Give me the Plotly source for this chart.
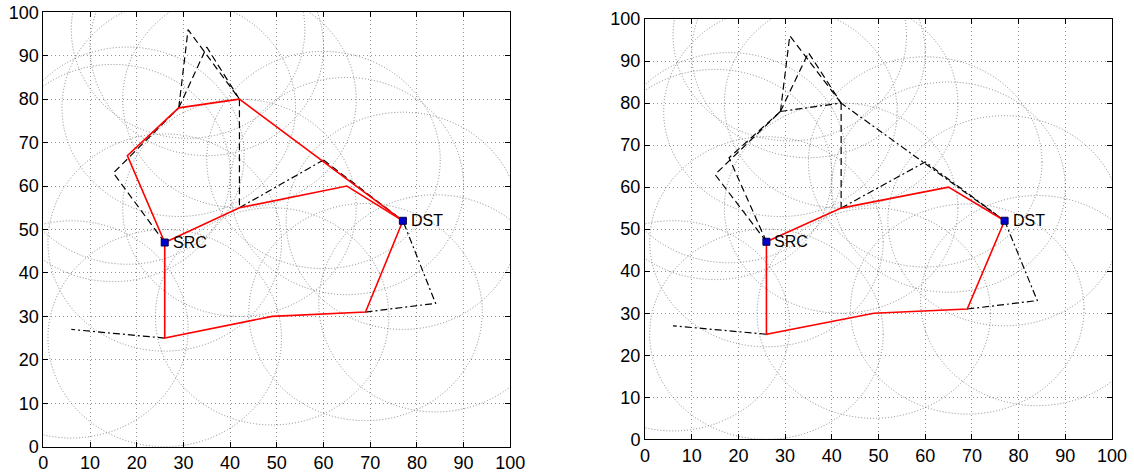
import plotly.graph_objects as go

# Node coordinates (index 0 = SRC, 1 = DST)
node_x = [26, 77, 26, 6, 49, 69, 84, 42, 65, 60, 15, 18, 29, 42, 31, 35]
node_y = [47, 52, 25, 27, 30, 31, 33, 55, 60, 66, 63, 67, 78, 80, 96, 92]
radius = 25
tick_vals = [0, 10, 20, 30, 40, 50, 60, 70, 80, 90, 100]

# Left panel paths (node index sequences)
left_red = [[0, 11, 12, 13, 1], [0, 7, 8, 1], [0, 2, 4, 5, 1]]
left_dash = [[0, 10, 12], [12, 14, 13], [12, 15, 13], [13, 7], [9, 1]]
left_dashdot = [[7, 9], [2, 3], [5, 6, 1]]

# Right panel paths
right_red = [[0, 7, 8, 1], [0, 2, 4, 5, 1]]
right_dash = [[0, 10, 12], [0, 11, 12], [12, 14, 13], [12, 15, 13], [13, 7]]
right_dashdot = [[12, 13, 1], [7, 9, 1], [2, 3], [5, 6, 1]]

labels = ["SRC", "DST"]

DASH = "7px,4px"
DASHDOT = "7px,3px,2px,3px"
FONT = "Liberation Sans, Arial, Helvetica, sans-serif"

fig = go.Figure()

def add_paths(paths, color, dash, width, xa, ya):
    for p in paths:
        fig.add_trace(go.Scatter(
            x=[node_x[i] for i in p], y=[node_y[i] for i in p],
            mode="lines", line=dict(color=color, width=width, dash=dash),
            xaxis=xa, yaxis=ya, showlegend=False, hoverinfo="skip"))

panels = [("x", "y", left_red, left_dash, left_dashdot),
          ("x2", "y2", right_red, right_dash, right_dashdot)]

shapes = []
annotations = []
for xa, ya, red, dsh, dd in panels:
    for cx, cy in zip(node_x, node_y):
        shapes.append(dict(type="circle", xref=xa, yref=ya,
                           x0=cx - radius, x1=cx + radius, y0=cy - radius, y1=cy + radius,
                           line=dict(color="rgba(100,100,100,0.75)", width=1, dash="1px,2px"),
                           layer="below"))
    add_paths(dsh, "black", DASH, 1.2, xa, ya)
    add_paths(dd, "black", DASHDOT, 1.2, xa, ya)
    add_paths(red, "#ff0000", "solid", 1.6, xa, ya)
    fig.add_trace(go.Scatter(
        x=node_x[:2], y=node_y[:2], mode="markers",
        marker=dict(symbol="square", size=7, color="#0000cc",
                    line=dict(color="#000044", width=1)),
        xaxis=xa, yaxis=ya, showlegend=False, hoverinfo="skip"))
    for i, lab in enumerate(labels):
        annotations.append(dict(x=node_x[i], y=node_y[i], xref=xa, yref=ya,
                                text=lab, showarrow=False, xanchor="left",
                                yanchor="middle", xshift=6,
                                font=dict(family=FONT, size=16, color="black")))

axis_common = dict(range=[0, 100], tickvals=tick_vals, ticks="inside", ticklen=5,
                   tickcolor="black", showline=True, linecolor="black", linewidth=1,
                   mirror="ticks", showgrid=True, gridcolor="rgba(120,120,120,0.8)",
                   griddash="1px,3px", gridwidth=1, zeroline=False, fixedrange=True,
                   automargin=False,
                   tickfont=dict(family=FONT, size=18, color="black"))

fig.update_layout(
    template="none",
    width=1134, height=473, autosize=False,
    margin=dict(l=0, r=0, t=0, b=0, pad=0),
    paper_bgcolor="white", plot_bgcolor="white",
    xaxis=dict(domain=[43.3 / 1134, 510.3 / 1134], anchor="y", **axis_common),
    yaxis=dict(domain=[(473 - 446.7) / 473, (473 - 12.3) / 473], anchor="x", **axis_common),
    xaxis2=dict(domain=[645 / 1134, 1112 / 1134], anchor="y2", **axis_common),
    yaxis2=dict(domain=[(473 - 439.3) / 473, (473 - 19) / 473], anchor="x2", **axis_common),
    shapes=shapes, annotations=annotations,
)

fig.write_html("out.html", config={"displayModeBar": False},
               post_script="document.body.style.margin='0';document.body.style.overflow='hidden';")
